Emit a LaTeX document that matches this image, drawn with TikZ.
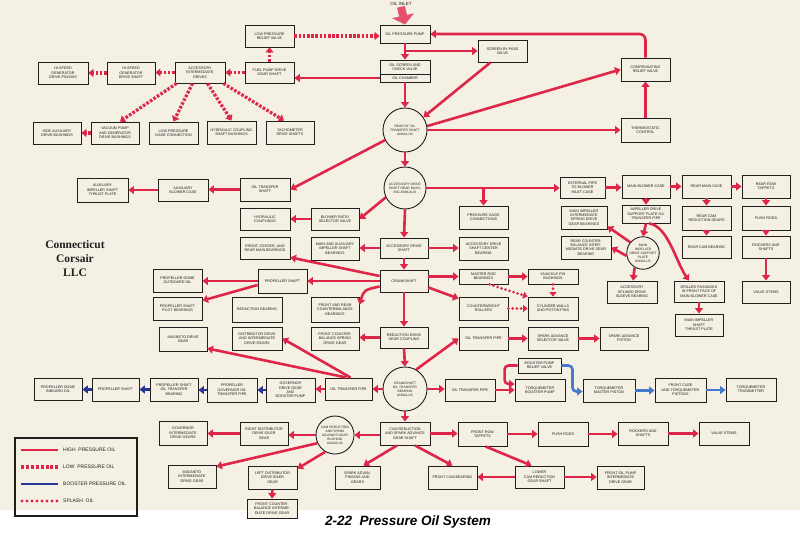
\documentclass[tikz,border=0pt]{standalone}
\usepackage{fontspec}
\setmainfont{Liberation Sans}
\newfontfamily\serifbold{Liberation Serif}
\usetikzlibrary{arrows.meta,calc}
\definecolor{paper}{HTML}{F4F0E4}
\definecolor{oilred}{RGB}{222,38,72}
\definecolor{boostdark}{RGB}{40,55,150}
\definecolor{boostlight}{RGB}{70,120,205}
\definecolor{ink}{RGB}{35,30,30}
\newcommand\mybox[6]{\node[box,minimum width={(#4-#2)*1pt},minimum height={(#5-#3)*1pt}] (#1) at ({(#2+#4)/2},{(#3+#5)/2}) {#6};}
\newcommand\mycirc[5]{\node[circ,minimum size={2*#4*1pt}] (#1) at (#2,#3) {#5};}
\begin{document}
\begin{tikzpicture}[x=1pt,y=-1pt,
 box/.style={draw=ink,line width=0.9pt,fill=paper,inner sep=0pt,align=center,font=\fontsize{3.7}{4.4}\selectfont,text=ink},
 circ/.style={circle,draw=ink,line width=0.9pt,fill=paper,inner sep=0pt,align=center,font=\fontsize{3.3}{4}\selectfont,text=ink},
 hpo/.style={draw=oilred,line width=2.6pt,-{Triangle[length=5.5pt,width=8pt]}},
 lpo/.style={draw=oilred,line width=3.2pt,dash pattern=on 2.6pt off 1.6pt,-{Triangle[length=5pt,width=8pt]}},
 spo/.style={draw=oilred,line width=3pt,line cap=round,dash pattern=on 0pt off 4.2pt,-{Triangle[length=4.5pt,width=7pt]}},
 bdo/.style={draw=boostdark,line width=2.6pt,-{Triangle[length=5.5pt,width=8pt]}},
 blo/.style={draw=boostlight,line width=2.6pt,-{Triangle[length=5.5pt,width=8pt]}},
 inl/.style={draw=oilred!80,line width=8pt,-{Triangle[length=9pt,width=22pt]}},
 legtxt/.style={font=\fontsize{5}{5.5}\selectfont,text=ink,anchor=west,inner sep=0pt}
]
\useasboundingbox (0,0) rectangle (800,540);
\fill[paper] (0,0) rectangle (800,510);
\fill[white] (0,510) rectangle (800,540);

% ---------- nodes ----------
\node[font=\fontsize{4.5}{5}\selectfont,text=ink,inner sep=1pt] (inlet) at (401,4) {OIL INLET};
\mybox{pump}{380}{25}{430}{43}{OIL PRESSURE PUMP}
\mybox{screen}{380}{60}{430}{74}{OIL SCREEN AND\\CHECK VALVE}
\mybox{chamber}{380}{74}{430}{82}{OIL CHAMBER}
\mybox{bypass}{478}{40}{527}{62}{SCREEN BY-PASS\\VALVE}
\mybox{lprv}{245}{25}{294}{47}{LOW PRESSURE\\RELIEF VALVE}
\mybox{fuel}{245}{62}{294}{83}{FUEL PUMP DRIVE\\GEAR SHAFT}
\mybox{aid}{175}{62}{225}{83}{ACCESSORY\\INTERMEDIATE\\DRIVES}
\mybox{hgs}{107}{62}{155}{84}{HI-SPEED\\GENERATOR\\DRIVE SHAFT}
\mybox{hgp}{38}{62}{88}{84}{HI-SPEED\\GENERATOR\\DRIVE PINIONS}
\mybox{vac}{91}{122}{139}{144}{VACUUM PUMP\\AND GENERATOR\\DRIVE BUSHINGS}
\mybox{sab}{33}{122}{81}{144}{SIDE AUXILIARY\\DRIVE BUSHINGS}
\mybox{lpg}{149}{122}{198}{144}{LOW PRESSURE\\GAGE CONNECTION}
\mybox{hcs}{207}{121}{256}{144}{HYDRAULIC COUPLING\\SHAFT BUSHINGS}
\mybox{tach}{266}{121}{314}{144}{TACHOMETER\\DRIVE SHAFTS}
\mybox{crv}{621}{58}{670}{81}{COMPENSATING\\RELIEF VALVE}
\mybox{thc}{621}{118}{670}{142}{THERMOSTATIC\\CONTROL}
\mycirc{c1}{405}{130}{22}{REAR OF OIL\\TRANSFER SHAFT\\ANNULUS}
\mycirc{c2}{405}{188}{21}{ACCESSORY DRIVE\\SHAFT REAR BUSH-\\ING ANNULUS}
\mybox{ads}{380}{238}{428}{258}{ACCESSORY DRIVE\\SHAFT}
\mybox{crank}{380}{270}{428}{292}{CRANKSHAFT}
\mybox{rdgc}{380}{327}{428}{348}{REDUCTION DRIVE\\GEAR COUPLING}
\mycirc{c3}{405}{389}{22}{CRANKSHAFT\\OIL TRANSFER\\BEARING\\ANNULUS}
\mybox{cam}{380}{422}{430}{445}{CAM REDUCTION\\AND SPARK ADVANCE\\GEAR SHAFT}

\mybox{ots}{240}{178}{290}{201}{OIL TRANSFER\\SHAFT}
\mybox{abc}{158}{179}{208}{201}{AUXILIARY\\BLOWER CASE}
\mybox{aitp}{77}{178}{128}{202}{AUXILIARY\\IMPELLER SHAFT\\THRUST PLATE}
\mybox{hyc}{240}{208}{290}{230}{HYDRAULIC\\COUPLINGS}
\mybox{brsv}{311}{208}{359}{230}{BLOWER RATIO\\SELECTOR VALVE}
\mybox{fcrm}{240}{237}{290}{259}{FRONT, CENTER, AND\\REAR MAIN BEARINGS}
\mybox{maisb}{311}{237}{359}{260}{MAIN AND AUXILIARY\\IMPELLER SHAFT\\BEARINGS}
\mybox{ps}{258}{269}{307}{293}{PROPELLER SHAFT}
\mybox{pdo}{153}{269}{202}{292}{PROPELLER DOME\\OUTBOARD OIL}
\mybox{pspb}{153}{297}{202}{320}{PROPELLER SHAFT\\PILOT BEARINGS}
\mybox{rg}{232}{297}{282}{322}{REDUCTION GEARING}
\mybox{frcb}{311}{297}{359}{322}{FRONT AND REAR\\COUNTERBALANCE\\BEARINGS}
\mybox{fcbs}{311}{327}{359}{350}{FRONT COUNTER-\\BALANCE SPRING\\DRIVE GEAR}
\mybox{ddig}{232}{327}{282}{350}{DISTRIBUTOR DRIVE\\AND INTERMEDIATE\\DRIVE GEARS}
\mybox{mdg}{159}{327}{207}{351}{MAGNETO DRIVE\\GEAR}

\mybox{pgc}{459}{206}{508}{229}{PRESSURE GAGE\\CONNECTIONS}
\mybox{epbi}{560}{177}{605}{198}{EXTERNAL PIPE\\TO BLOWER\\INLET CASE}
\mybox{adscb}{459}{237}{508}{260}{ACCESSORY DRIVE\\SHAFT CENTER\\BEARING}
\mybox{misd}{561}{206}{607}{229}{MAIN IMPELLER\\INTERMEDIATE\\SPRING DRIVE\\GEAR BEARINGS}
\mybox{rcbi}{561}{236}{611}{259}{REAR COUNTER-\\BALANCE INTER-\\MEDIATE DRIVE GEAR\\BEARING}
\mybox{mbc}{622}{175}{670}{198}{MAIN BLOWER CASE}
\mybox{idsp}{622}{205}{670}{223}{IMPELLER DRIVE\\SUPPORT PLATE OIL\\TRANSFER PIPE}
\mycirc{c4}{643}{253}{16}{MAIN\\IMPELLER\\DRIVE SUPPORT\\PLATE\\ANNULUS}
\mybox{asds}{607}{281}{657}{303}{ACCESSORY\\SPLINED DRIVE\\SLEEVE BEARING}
\mybox{dp}{674}{281}{724}{302}{DRILLED PASSAGES\\IN FRONT FACE OF\\MAIN BLOWER CASE}
\mybox{mist}{675}{314}{723}{336}{MAIN IMPELLER\\SHAFT\\THRUST PLATE}
\mybox{rmc}{682}{175}{731}{198}{REAR MAIN CASE}
\mybox{rcrg}{682}{206}{731}{230}{REAR CAM\\REDUCTION GEARS}
\mybox{rcb}{682}{236}{731}{258}{REAR CAM BEARING}
\mybox{rrt}{742}{175}{790}{198}{REAR ROW\\TAPPETS}
\mybox{prr}{742}{206}{790}{230}{PUSH RODS}
\mybox{ras}{742}{236}{790}{258}{ROCKERS AND\\SHAFTS}
\mybox{vsr}{742}{281}{790}{303}{VALVE STEMS}

\mybox{mrb}{459}{269}{508}{284}{MASTER ROD\\BEARINGS}
\mybox{kpb}{528}{269}{578}{284}{KNUCKLE PIN\\BUSHINGS}
\mybox{cwr}{459}{297}{508}{320}{COUNTERWEIGHT\\ROLLERS}
\mybox{cwpp}{528}{297}{578}{320}{CYLINDER WALLS\\AND PISTON PINS}
\mybox{otpm}{459}{327}{508}{350}{OIL TRANSFER PIPE}
\mybox{sasv}{528}{327}{578}{350}{SPARK ADVANCE\\SELECTOR VALVE}
\mybox{sap}{600}{327}{648}{350}{SPARK ADVANCE\\PISTON}

\mybox{otpl}{325}{378}{372}{400}{OIL TRANSFER PIPE}
\mybox{gdg}{266}{378}{315}{402}{GOVERNOR\\DRIVE GEAR\\AND\\BOOSTER PUMP}
\mybox{pgot}{207}{378}{257}{402}{PROPELLER\\GOVERNOR OIL\\TRANSFER PIPE}
\mybox{psotb}{150}{378}{198}{401}{PROPELLER SHAFT\\OIL TRANSFER\\BEARING}
\mybox{ps2}{92}{378}{139}{401}{PROPELLER SHAFT}
\mybox{pdi}{34}{378}{82}{400}{PROPELLER DOME\\INBOARD OIL}

\mybox{otpr}{445}{379}{495}{401}{OIL TRANSFER PIPE}
\mybox{tbp}{515}{379}{565}{401}{TORQUEMETER\\BOOSTER PUMP}
\mybox{bprv}{518}{358}{561}{373}{BOOSTER PUMP\\RELIEF VALVE}
\mybox{tmp}{583}{379}{635}{402}{TORQUEMETER\\MASTER PISTON}
\mybox{fctp}{655}{378}{706}{402}{FRONT CASE\\AND TORQUEMETER\\PISTONS}
\mybox{tt}{726}{378}{776}{401}{TORQUEMETER\\TRANSMITTER}

\mycirc{c5}{335}{435}{19}{CAM REDUCTION\\AND SPARK\\ADVANCE GEAR\\BUSHING\\ANNULUS}
\mybox{rddi}{240}{422}{288}{445}{RIGHT DISTRIBUTOR\\DRIVE IDLER\\GEAR}
\mybox{gidg}{159}{421}{207}{445}{GOVERNOR\\INTERMEDIATE\\DRIVE GEARS}
\mybox{midg}{168}{465}{216}{488}{MAGNETO\\INTERMEDIATE\\DRIVE GEAR}
\mybox{lddi}{248}{466}{297}{489}{LEFT DISTRIBUTOR\\DRIVE IDLER\\GEAR}
\mybox{fcbi}{247}{499}{297}{518}{FRONT COUNTER-\\BALANCE INTERME-\\DIATE DRIVE GEAR}
\mybox{sapg}{335}{466}{380}{489}{SPARK ADVAN.\\PINIONS AND\\GEARS}
\mybox{frt}{458}{422}{507}{446}{FRONT ROW\\TAPPETS}
\mybox{prf}{538}{422}{588}{446}{PUSH RODS}
\mybox{rasf}{618}{422}{668}{445}{ROCKERS AND\\SHAFTS}
\mybox{vsf}{699}{422}{749}{445}{VALVE STEMS}
\mybox{fcb}{428}{466}{477}{489}{FRONT CAM BEARING}
\mybox{lcr}{515}{466}{564}{488}{LOWER\\CAM REDUCTION\\GEAR SHAFT}
\mybox{fop}{597}{466}{644}{489}{FRONT OIL PUMP\\INTERMEDIATE\\DRIVE GEAR}

% ---------- connectors ----------
\draw[inl] (inlet.south) -- (pump.north);
\draw[hpo,rounded corners=6pt] (crv.north) |- (pump.east);
\draw[hpo] (pump.south) -- (screen.north);
\draw[hpo] (pump.south |- bypass.west) -- (bypass.west);
\draw[hpo] ([xshift=-12pt]bypass.south) -- (c1.35);
\draw[hpo] (chamber.south) -- (c1.north);
\draw[hpo] (chamber.west) -- (chamber.west -| fuel.east);
\draw[lpo] (lprv.east) -- (lprv.east -| pump.west);
\draw[lpo] (fuel.north) -- (lprv.south);
\draw[lpo] (fuel.west) -- (fuel.west -| aid.east);
\draw[lpo] (aid.west) -- (aid.west -| hgs.east);
\draw[lpo] (hgs.west) -- (hgs.west -| hgp.east);
\draw[lpo] ([xshift=2pt]aid.south west) -- ([xshift=5pt]vac.north);
\draw[lpo] ([xshift=18pt]aid.south west) -- (lpg.north);
\draw[lpo] ([xshift=-18pt]aid.south east) -- (hcs.north);
\draw[lpo] ([xshift=-2pt]aid.south east) -- ([xshift=-6pt]tach.north);
\draw[lpo] (vac.west) -- (vac.west -| sab.east);

\draw[hpo] (c1.east) -- (c1.east -| thc.west);
\draw[hpo] (c1.10) -- (crv.west);
\draw[hpo] (thc.north) -- (crv.south);
\draw[hpo] (c1.207) -- (ots.east);
\draw[hpo] (c1.south) -- (c2.north);

\draw[hpo] (c2.east) -- (c2.east -| epbi.west);
\draw[hpo] (c2.east -| pgc.north) -- (pgc.north);
\draw[hpo] (c2.206) -- (brsv.east);
\draw[hpo] (c2.south) -- (ads.north);
\draw[hpo] (ots.west) -- (ots.west -| abc.east);
\draw[hpo] (abc.west) -- (abc.west -| aitp.east);
\draw[hpo] (brsv.west) -- (brsv.west -| hyc.east);
\draw[hpo] (ads.west) -- (ads.west -| maisb.east);
\draw[hpo] (ads.east) -- (ads.east -| adscb.west);
\draw[hpo] (ads.south) -- (crank.north);
\draw[hpo] ([yshift=5pt]crank.west) -- ([yshift=2pt]fcrm.south east);
\draw[hpo] (crank.west) -- (crank.west -| ps.east);
\draw[hpo] ([yshift=6pt]crank.south west) .. controls (364,290) .. ([yshift=-8pt]frcb.north east);
\draw[hpo] (ps.west) -- (ps.west -| pdo.east);
\draw[hpo] ([yshift=-4pt]ps.west) -- ([yshift=-4pt]pspb.north east);
\draw[hpo] (crank.south) -- (rdgc.north);
\draw[hpo] (mrb.west -| crank.east) -- (mrb.west);
\draw[hpo] ([yshift=5pt]crank.south east) -- ([yshift=-2pt]cwr.north west);
\draw[hpo] (mrb.east) -- (mrb.east -| kpb.west);
\draw[spo] ([xshift=6pt]mrb.south) -- (cwpp.north west);
\draw[spo] (kpb.south) -- (cwpp.north);
\draw[spo] (cwr.east) -- (cwr.east -| cwpp.west);
\draw[hpo] (rdgc.west) -- (rdgc.west -| fcbs.east);
\draw[hpo] (rdgc.south) -- (c3.north);
\draw[hpo] (c3.60) -- (otpm.west);
\draw[hpo] (otpm.east) -- (sasv.west);
\draw[hpo] (sasv.east) -- (sap.west);

\draw[hpo] (c3.west) -- (c3.west -| otpl.east);
\draw[hpo] (otpl.west) -- (otpl.west -| gdg.east);
\draw[bdo] (gdg.west) -- (gdg.west -| pgot.east);
\draw[bdo] (pgot.west) -- (pgot.west -| psotb.east);
\draw[bdo] (psotb.west) -- (psotb.west -| ps2.east);
\draw[bdo] (ps2.west) -- (ps2.west -| pdi.east);
\draw[hpo] ([xshift=2pt]otpl.north) -- (ddig.east);
\draw[hpo] ([xshift=-2pt]otpl.north) -- ([yshift=3pt]mdg.south east);

\draw[hpo] (c3.east) -- (c3.east -| otpr.west);
\draw[hpo] (otpr.east) -- (otpr.east -| tbp.west);
\draw[hpo,rounded corners=4pt] (bprv.west) -- ++(-13,0) |- ([yshift=6pt]tbp.west);
\draw[blo,rounded corners=4pt] (bprv.east) -- ++(11,0) |- ([yshift=-1pt]tmp.west);
\draw[blo] (tmp.east) -- (tmp.east -| fctp.west);
\draw[blo] (fctp.east) -- (fctp.east -| tt.west);

\draw[hpo] (c3.south) -- (cam.north);
\draw[hpo] (c5.east -| cam.west) -- (c5.east);
\draw[hpo] (c5.west) -- (c5.west -| rddi.east);
\draw[hpo] (rddi.west) -- (rddi.west -| gidg.east);
\draw[hpo] (c5.205) -- ([yshift=-2pt]midg.north east);
\draw[hpo] (c5.240) -- ([yshift=-3pt]lddi.north east);
\draw[hpo] (lddi.south) -- (fcbi.north);
\draw[hpo] ([xshift=-8pt]cam.south) -- ([xshift=-17pt]sapg.north east);
\draw[hpo] ([xshift=10pt]cam.south) -- (fcb.north);
\draw[hpo] (cam.east) -- (cam.east -| frt.west);
\draw[hpo] (frt.east) -- (frt.east -| prf.west);
\draw[hpo] (prf.east) -- (prf.east -| rasf.west);
\draw[hpo] (rasf.east) -- (rasf.east -| vsf.west);
\draw[hpo] ([xshift=3pt]frt.south) -- ([xshift=-8pt]lcr.north);
\draw[hpo] (lcr.west) -- (lcr.west -| fcb.east);
\draw[hpo] (lcr.east) -- (lcr.east -| fop.west);

\draw[hpo] (epbi.east) -- (epbi.east -| mbc.west);
\draw[hpo] (mbc.east) -- (mbc.east -| rmc.west);
\draw[hpo] (rmc.east) -- (rmc.east -| rrt.west);
\draw[hpo] (mbc.south) -- (idsp.north);
\draw[hpo] (idsp.south) -- (c4.north);
\draw[hpo] ([xshift=3pt]idsp.south) .. controls (668,226) and (676,262) .. ([xshift=-10pt]dp.north);
\draw[hpo] (c4.140) -- ([yshift=3pt]misd.south east);
\draw[hpo] (c4.190) -- (rcbi.east);
\draw[hpo] (c4.240) -- ([xshift=1pt]asds.north);
\draw[hpo] (dp.south) -- (mist.north);
\draw[hpo] (rmc.south) -- (rcrg.north);
\draw[hpo] (rcrg.south) -- (rcb.north);
\draw[hpo] (rrt.south) -- (prr.north);
\draw[hpo] (prr.south) -- (ras.north);
\draw[hpo] (ras.south) -- (vsr.north);

% ---------- legend ----------
\node[draw=ink,line width=1.3pt,minimum width=122pt,minimum height=78pt,inner sep=0pt] (legend) at (76,477) {};
\draw[hpo,-] (21,450) -- (58,450);
\draw[draw=oilred,line width=3.6pt,dash pattern=on 3pt off 1.9pt] (21,467) -- (58,467);
\draw[draw=boostdark,line width=2.8pt] (21,484) -- (58,484);
\draw[draw=oilred,line width=3.4pt,line cap=round,dash pattern=on 0pt off 5pt] (22,501) -- (57,501);
\node[legtxt] (lt1) at (63,450) {HIGH\ \ PRESSURE OIL};
\node[legtxt] (lt2) at (63,467) {LOW\ \ PRESSURE OIL};
\node[legtxt] (lt3) at (63,484) {BOOSTER PRESSURE OIL};
\node[legtxt] (lt4) at (63,501) {SPLASH\ \ OIL};

% ---------- texts ----------
\node[font=\serifbold\bfseries\fontsize{11.5}{14}\selectfont,align=center,text=ink] (brand) at (75,259) {Connecticut\\Corsair\\LLC};
\node[font=\bfseries\itshape\fontsize{13.5}{16}\selectfont,text=black] (title) at (408,522) {2-22\ \ Pressure Oil System};
\end{tikzpicture}
\end{document}
